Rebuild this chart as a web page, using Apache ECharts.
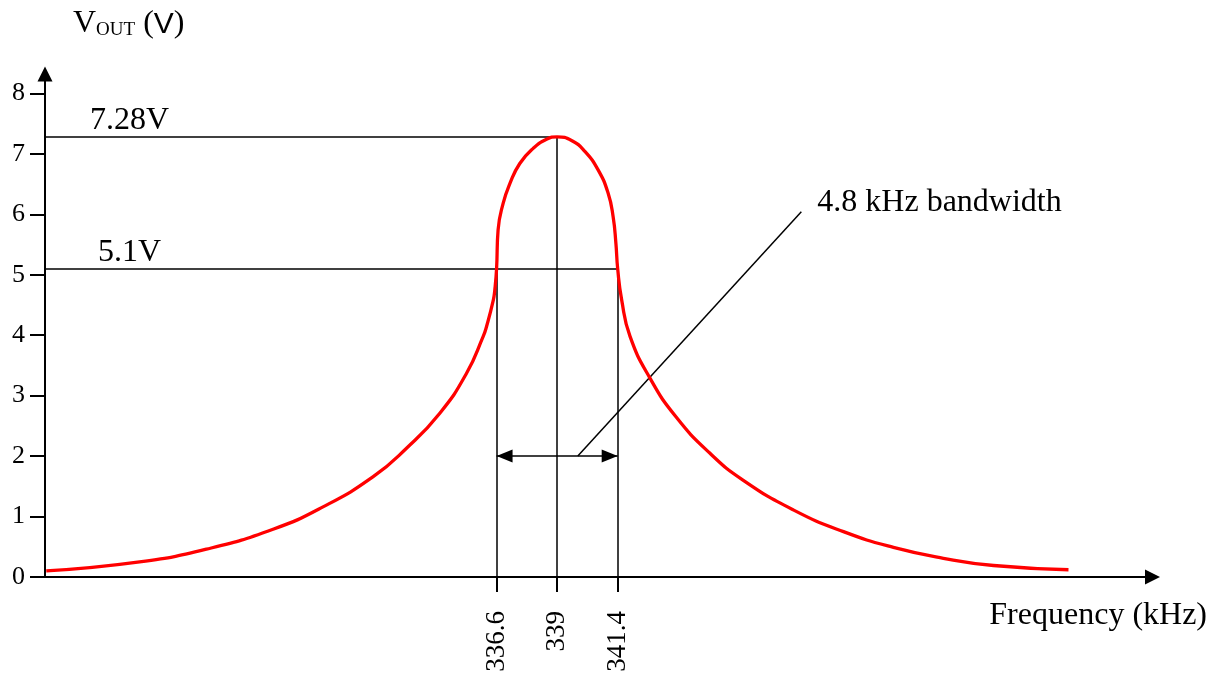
<!DOCTYPE html>
<html>
<head>
<meta charset="utf-8">
<script src="https://cdn.jsdelivr.net/npm/echarts@6/dist/echarts.min.js"></script>
<style>
  html, body { margin: 0; padding: 0; background: #fff; }
  #chart { width: 1226px; height: 675px; }
</style>
</head>
<body>
<div id="chart"></div>
<script>
// Resonance curve of the tuned circuit: output voltage against frequency.
const freqKHz = [
  318.75, 322.45, 325.1, 327.74, 329.72, 331.71, 333.03, 334.35, 335.41, 336.07, 336.2, 336.47, 336.53,
  336.6, 336.66, 336.86, 337.13, 337.52, 338.05, 338.58, 339, 339.57, 340.1, 340.63, 341.02, 341.22, 341.33, 341.4,
  341.56, 341.89, 342.68, 343.71, 345.05, 346.38, 348.36, 350.35, 352.33, 354.31, 356.3, 359.27
];
const voutV = [
  0.10, 0.25, 0.46, 0.79, 1.16, 1.66, 2.13, 2.71, 3.37, 3.98, 4.14, 4.58, 4.75,
  5.1, 5.74, 6.18, 6.51, 6.84, 7.09, 7.24, 7.28, 7.22, 7.04, 6.73, 6.35, 5.96, 5.52, 5.1,
  4.58, 3.98, 3.29, 2.65, 2.05, 1.60, 1.11, 0.75, 0.49, 0.31, 0.19, 0.12
];
const yTicks = [0, 1, 2, 3, 4, 5, 6, 7, 8];
const bandFreqs = [336.6, 339, 341.4];   // lower -3 dB point, resonance, upper -3 dB point
const peakV = 7.28;
const halfPowerV = 5.1;
const bandwidthKHz = 4.8;

const X_MIN = 318.7, X_MAX = 362.6, Y_MAX = 8.32;
const SERIF = 'Liberation Serif';
const [fLow, fRes, fHigh] = bandFreqs;

// annotation geometry in data units
const arrowLevel = 2;
const leaderFrom = [339.82, arrowLevel];
const leaderTo = [348.68, 6.04];
const levelLabelFreq = 322.05;

const black = '#000';
const thin = { color: black, width: 1.5, type: 'solid' };
const arrowHead = { symbol: 'triangle', symbolSize: [13, 16], symbolOffset: [0, 8] };

const chart = echarts.init(document.getElementById('chart'), null, { renderer: 'canvas' });

chart.setOption({
  animation: false,
  backgroundColor: '#fff',
  grid: { left: 45, right: 73.5, top: 74, bottom: 98, containLabel: false, outerBoundsMode: 'none' },
  xAxis: {
    type: 'value',
    min: X_MIN,
    max: X_MAX,
    splitLine: { show: false },
    axisLine: {
      show: true, onZero: false,
      lineStyle: { color: black, width: 2 },
      symbol: ['none', 'triangle'],
      symbolSize: [15, 15]
    },
    axisTick: { show: true, length: 15, lineStyle: { color: black, width: 2 }, customValues: bandFreqs },
    axisLabel: {
      show: true, rotate: 90, margin: 34,
      customValues: bandFreqs,
      color: black, fontFamily: SERIF, fontSize: 27
    },
    name: 'Frequency (kHz)',
    nameLocation: 'end',
    nameGap: 54.5,
    nameTextStyle: {
      align: 'right', verticalAlign: 'top',
      color: black, fontFamily: SERIF, fontSize: 32, lineHeight: 32,
      padding: [23, 0, 0, 0]
    }
  },
  yAxis: {
    type: 'value',
    min: 0,
    max: Y_MAX,
    splitLine: { show: false },
    axisLine: {
      show: true, onZero: false,
      lineStyle: { color: black, width: 2 },
      symbol: ['none', 'triangle'],
      symbolSize: [15, 15]
    },
    axisTick: { show: true, length: 15, lineStyle: { color: black, width: 2 }, customValues: yTicks },
    axisLabel: {
      show: true, margin: 20,
      customValues: yTicks,
      color: black, fontFamily: SERIF, fontSize: 26
    },
    name: '{v|V}{s|OUT}{sp| }{p|(}{a|V}{p|)}',
    nameLocation: 'end',
    nameGap: 34,
    nameTextStyle: {
      align: 'left', verticalAlign: 'bottom',
      padding: [0, 0, 0, 28],
      rich: {
        v: { fontFamily: SERIF, fontSize: 32, lineHeight: 36, color: black, verticalAlign: 'bottom' },
        s: { fontFamily: SERIF, fontSize: 19, lineHeight: 27.2, color: black, verticalAlign: 'bottom' },
        sp: { fontFamily: SERIF, fontSize: 32, lineHeight: 36, color: black, verticalAlign: 'bottom' },
        p: { fontFamily: SERIF, fontSize: 32, lineHeight: 36, color: black, verticalAlign: 'bottom' },
        a: { fontFamily: 'Liberation Sans', fontSize: 30, lineHeight: 35.2, color: black, verticalAlign: 'bottom' }
      }
    }
  },
  series: [{
    name: 'Vout',
    type: 'line',
    data: freqKHz.map((f, i) => [f, voutV[i]]),
    smooth: 0.5,
    showSymbol: false,
    symbol: 'none',
    lineStyle: { color: '#ff0000', width: 3.3 },
    z: 5,
    markLine: {
      silent: true,
      symbol: 'none',
      lineStyle: thin,
      label: { show: false },
      data: [
        [{ coord: [X_MIN, peakV] }, { coord: [fRes, peakV] }],
        [{ coord: [X_MIN, halfPowerV] }, { coord: [fHigh, halfPowerV] }],
        [{ coord: [fLow, 0] }, { coord: [fLow, halfPowerV] }],
        [{ coord: [fRes, 0] }, { coord: [fRes, peakV] }],
        [{ coord: [fHigh, 0] }, { coord: [fHigh, halfPowerV] }],
        [{ coord: leaderFrom }, { coord: leaderTo }],
        [
          Object.assign({ coord: [fLow, arrowLevel] }, arrowHead),
          Object.assign({ coord: [fHigh, arrowLevel] }, arrowHead)
        ]
      ]
    },
    markPoint: {
      silent: true,
      symbol: 'circle',
      symbolSize: 0,
      itemStyle: { color: 'rgba(0,0,0,0)' },
      label: { color: black, fontFamily: SERIF, fontSize: 32 },
      data: [
        { coord: [levelLabelFreq, peakV], label: { formatter: peakV.toFixed(2) + 'V', position: 'top', distance: 0 } },
        { coord: [levelLabelFreq, halfPowerV], label: { formatter: halfPowerV.toFixed(1) + 'V', position: 'top', distance: 0 } },
        { coord: leaderTo, label: { formatter: bandwidthKHz.toFixed(1) + ' kHz bandwidth', position: 'right', distance: 16, offset: [0, -9] } }
      ]
    }
  }]
});
</script>
</body>
</html>
